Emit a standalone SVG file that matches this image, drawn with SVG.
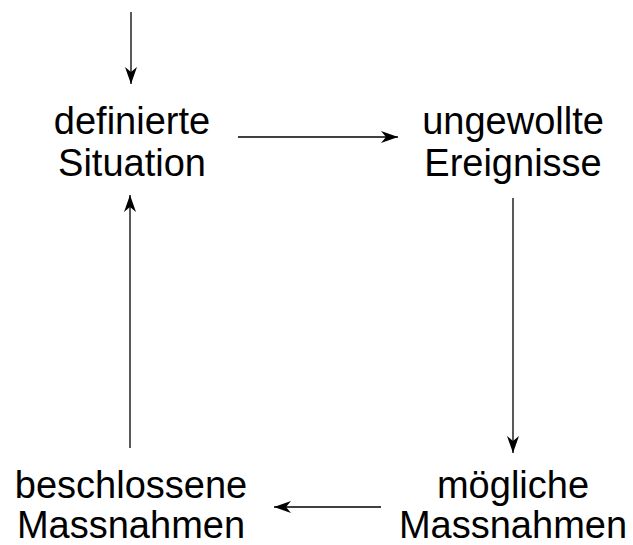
<svg xmlns="http://www.w3.org/2000/svg" width="633" height="545" viewBox="0 0 633 545">
<style>
.lbl{font-family:"Liberation Sans",Arial,sans-serif;font-size:38px;fill:#000;text-anchor:middle}
.c{stroke:#000;stroke-width:1.3;fill:none}
</style>
<defs>
<marker id="ah" viewBox="-18 -7 19 14" refX="0" refY="0" markerWidth="19" markerHeight="14" markerUnits="userSpaceOnUse" orient="auto">
<path d="M0,0 L-17,-6 L-12,0 L-17,6 Z" fill="#000"/>
</marker>
</defs>
<rect width="633" height="545" fill="#fff"/>
<g id="connectors">
<line class="c" x1="131" y1="12" x2="131" y2="84" marker-end="url(#ah)"/>
<line class="c" x1="238" y1="137" x2="398" y2="137" marker-end="url(#ah)"/>
<line class="c" x1="513" y1="198" x2="513" y2="453" marker-end="url(#ah)"/>
<line class="c" x1="381" y1="507" x2="274" y2="507" marker-end="url(#ah)"/>
<line class="c" x1="130" y1="448" x2="130" y2="195" marker-end="url(#ah)"/>
</g>
<g id="n1"><text class="lbl" x="132" y="134">definierte</text><text class="lbl" x="132" y="176">Situation</text></g>
<g id="n2"><text class="lbl" x="513" y="134">ungewollte</text><text class="lbl" x="513" y="176">Ereignisse</text></g>
<g id="n3"><text class="lbl" x="513" y="498">mögliche</text><text class="lbl" x="513" y="538">Massnahmen</text></g>
<g id="n4"><text class="lbl" x="131" y="498">beschlossene</text><text class="lbl" x="131" y="538">Massnahmen</text></g>
</svg>
